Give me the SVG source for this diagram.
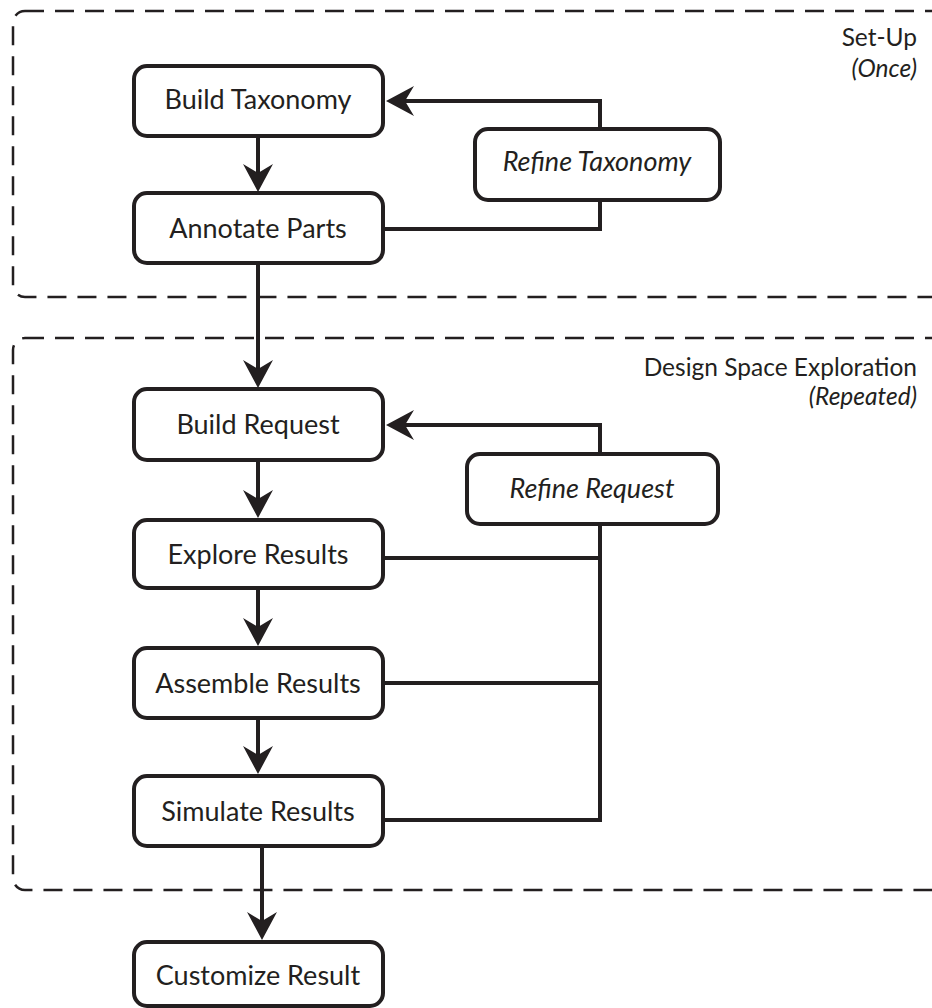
<svg xmlns="http://www.w3.org/2000/svg" width="932" height="1008" viewBox="0 0 932 1008">
  <style>
    .zone { fill: none; stroke: #231f20; stroke-width: 2.5; stroke-dasharray: 19 11; }
    .box { fill: #ffffff; stroke: #231f20; stroke-width: 4; }
    .lbl { font-family: Lato, "Open Sans", sans-serif; font-size: 27px; fill: #231f20; text-anchor: middle; }
    .ital { font-style: italic; }
    .zlbl { font-family: Lato, "Open Sans", sans-serif; font-size: 24.5px; fill: #231f20; text-anchor: end; }
    .wire { fill: none; stroke: #231f20; stroke-width: 4; }
  </style>
  <defs>
    <marker id="head" markerUnits="userSpaceOnUse" orient="auto" refX="0" refY="0" markerWidth="40" markerHeight="40" overflow="visible">
      <path d="M10,0 L-18,-15 L-9,0 L-18,15 Z" fill="#231f20"/>
    </marker>
  </defs>
  <rect width="932" height="1008" fill="#ffffff"/>

  <!-- phase zones -->
  <g id="zone-setup">
    <rect class="zone" x="13" y="11" width="960" height="286" rx="12"/>
    <text class="zlbl" x="917" y="46">Set-Up</text>
    <text class="zlbl ital" x="917" y="77">(Once)</text>
  </g>
  <g id="zone-dse">
    <rect class="zone" x="13" y="338" width="960" height="552" rx="12"/>
    <text class="zlbl" x="917" y="376">Design Space Exploration</text>
    <text class="zlbl ital" x="917" y="405">(Repeated)</text>
  </g>

  <!-- connectors -->
  <g id="connectors">
    <path class="wire" d="M258,136 V182" marker-end="url(#head)"/>
    <path class="wire" d="M258,263 V378" marker-end="url(#head)"/>
    <path class="wire" d="M258,460 V508" marker-end="url(#head)"/>
    <path class="wire" d="M258,588 V636" marker-end="url(#head)"/>
    <path class="wire" d="M258,718 V764" marker-end="url(#head)"/>
    <path class="wire" d="M262,846 V930" marker-end="url(#head)"/>
    <path class="wire" d="M600,129 V101 H396" marker-end="url(#head)"/>
    <path class="wire" d="M384,229 H600 V200"/>
    <path class="wire" d="M600,454 V425 H396" marker-end="url(#head)"/>
    <path class="wire" d="M384,558 H600"/>
    <path class="wire" d="M384,683 H600"/>
    <path class="wire" d="M384,820 H600 V524"/>
  </g>

  <!-- nodes -->
  <g id="build-taxonomy">
    <rect class="box" x="134" y="66" width="249" height="70" rx="13"/>
    <text class="lbl" x="258" y="109">Build Taxonomy</text>
  </g>
  <g id="annotate-parts">
    <rect class="box" x="134" y="193" width="249" height="70" rx="13"/>
    <text class="lbl" x="258" y="238">Annotate Parts</text>
  </g>
  <g id="refine-taxonomy">
    <rect class="box" x="475" y="129" width="245" height="71" rx="13"/>
    <text class="lbl ital" x="597" y="171">Refine Taxonomy</text>
  </g>
  <g id="build-request">
    <rect class="box" x="134" y="389" width="249" height="71" rx="13"/>
    <text class="lbl" x="258" y="434">Build Request</text>
  </g>
  <g id="refine-request">
    <rect class="box" x="467" y="454" width="251" height="70" rx="13"/>
    <text class="lbl ital" x="592" y="498">Refine Request</text>
  </g>
  <g id="explore-results">
    <rect class="box" x="134" y="520" width="249" height="68" rx="13"/>
    <text class="lbl" x="258" y="564">Explore Results</text>
  </g>
  <g id="assemble-results">
    <rect class="box" x="134" y="648" width="249" height="70" rx="13"/>
    <text class="lbl" x="258" y="693">Assemble Results</text>
  </g>
  <g id="simulate-results">
    <rect class="box" x="134" y="776" width="249" height="70" rx="13"/>
    <text class="lbl" x="258" y="821">Simulate Results</text>
  </g>
  <g id="customize-result">
    <rect class="box" x="134" y="942" width="249" height="64" rx="13"/>
    <text class="lbl" x="258" y="985">Customize Result</text>
  </g>
</svg>
